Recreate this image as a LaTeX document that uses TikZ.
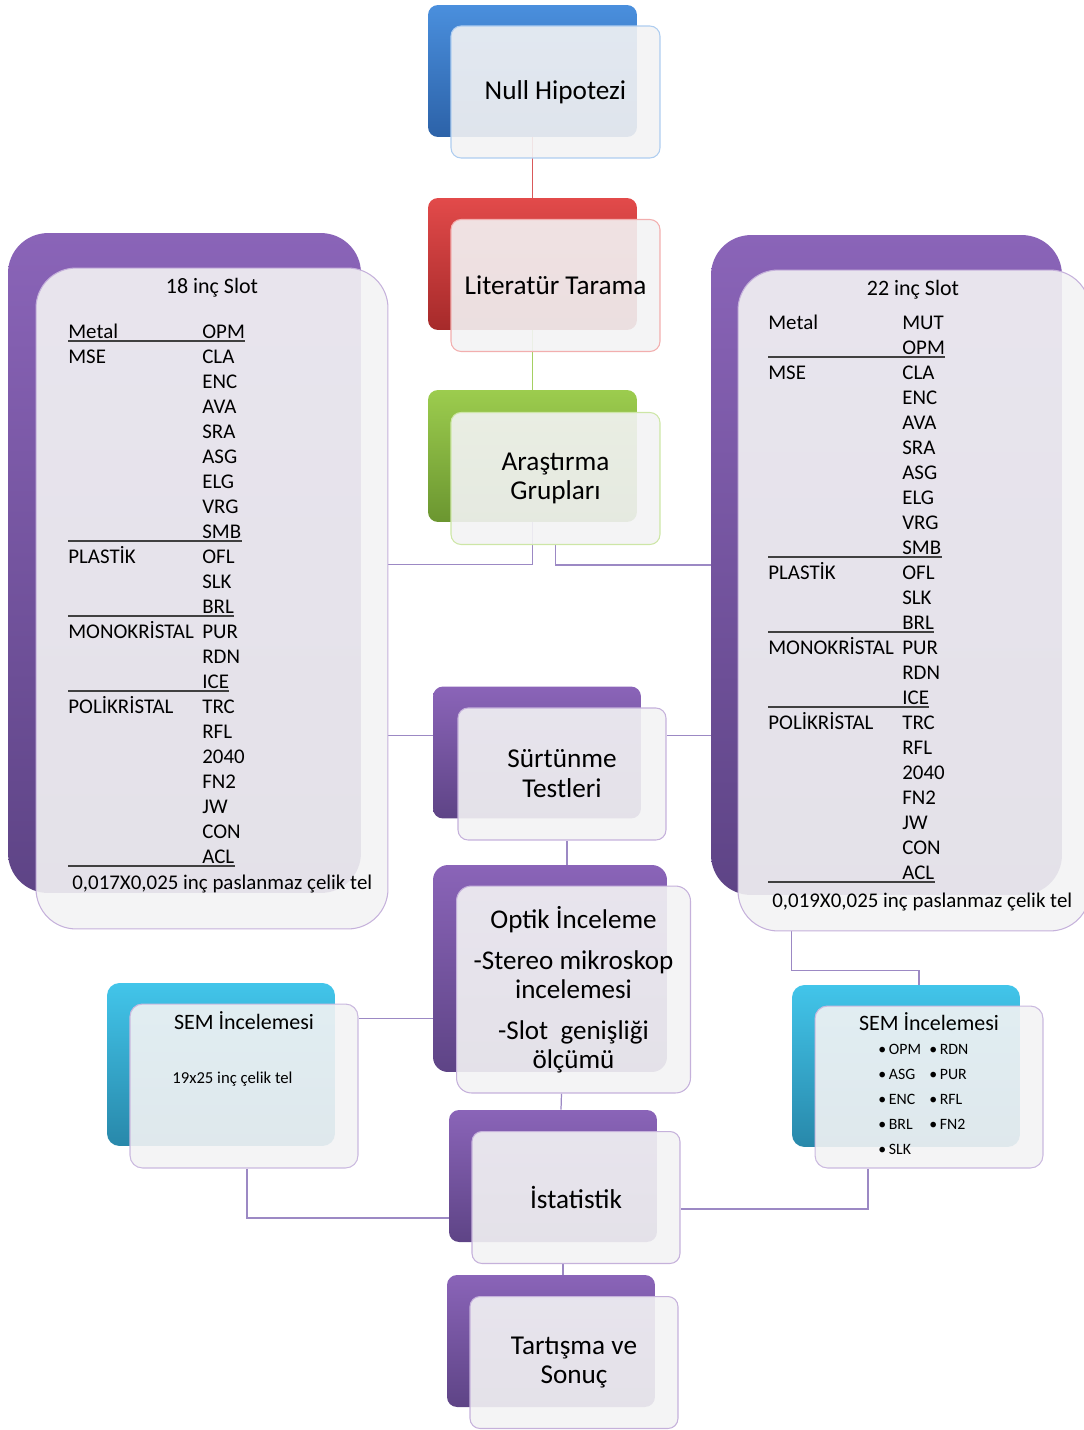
\documentclass[tikz,border=0pt]{standalone}
\usepackage{fontspec}
\setmainfont{Carlito}
\usetikzlibrary{calc,backgrounds}

\definecolor{bluetop}{HTML}{4A8FDD}
\definecolor{bluebot}{HTML}{2C62A8}
\definecolor{redtop}{HTML}{E24A4A}
\definecolor{redbot}{HTML}{A62A2A}
\definecolor{greentop}{HTML}{9CCC4E}
\definecolor{greenbot}{HTML}{6B9630}
\definecolor{purpletop}{HTML}{8A64B8}
\definecolor{purplebot}{HTML}{5E4486}
\definecolor{cyantop}{HTML}{42C5EA}
\definecolor{cyanbot}{HTML}{2888AA}
\definecolor{cardfill}{HTML}{F3F3F4}
\definecolor{linkpurple}{HTML}{9C89C4}
\definecolor{linkred}{HTML}{D9595A}
\definecolor{linkgreen}{HTML}{A5CF62}

\tikzset{
  cardback/.style={rounded corners=0.2cm, minimum width=4.18cm, minimum height=2.64cm, inner sep=0pt},
  cardfront/.style={cardback, draw=#1, line width=0.6pt, fill=cardfill, fill opacity=0.9, text opacity=1,
    align=center, font=\fontsize{15.5}{17}\selectfont},
  link/.style={draw=linkpurple, line width=0.7pt},
  item/.style={anchor=base west, inner sep=0pt, font=\fontsize{11.9}{14}\selectfont},
  title/.style={anchor=base, inner sep=0pt, font=\fontsize{12.5}{14}\selectfont},
  small/.style={anchor=base west, inner sep=0pt, font=\fontsize{9}{11}\selectfont},
  tabline/.style={draw=black!75, line width=0.8pt}
}

\begin{document}
\begin{tikzpicture}[x=0.02cm, y=-0.02cm]
\useasboundingbox (0,0) rectangle (1083,1430);

% middle column
\node[cardback, top color=bluetop, bottom color=bluebot] (nullB) at (532.5,71) {};
\node[cardfront=bluetop!45] (null) at ($(nullB)+(23,21)$) {Null Hipotezi};

\node[cardback, top color=redtop, bottom color=redbot] (litB) at (532.5,264) {};
\node[cardfront=redtop!45] (lit) at ($(litB)+(23,21.5)$) {Literatür Tarama};

\node[cardback, top color=greentop, bottom color=greenbot] (araB) at (532.5,456) {};
\node[cardfront=greentop!50] (ara) at ($(araB)+(23,22.5)$) {Araştırma\\Grupları};

\node[cardback, minimum width=4.16cm, top color=purpletop, bottom color=purplebot] (surtB) at (537,752.5) {};
\node[cardfront=purpletop!50, minimum width=4.16cm] (surt) at ($(surtB)+(25,21.5)$) {Sürtünme\\Testleri};

\node[cardback, rounded corners=0.3cm, minimum width=4.68cm, minimum height=4.14cm,
  top color=purpletop, bottom color=purplebot] (optikB) at (550,968.5) {};
\node[cardfront=purpletop!50, rounded corners=0.3cm, minimum width=4.68cm, minimum height=4.14cm,
  font=\fontsize{15.4}{16.4}\selectfont] (optik) at ($(optikB)+(23.5,21)$)
  {Optik İnceleme\\[7pt]-Stereo mikroskop\\incelemesi\\[7pt]-Slot\ \ genişliği\\ölçümü};

\node[cardback, minimum width=4.16cm, top color=purpletop, bottom color=purplebot] (istB) at (553,1176) {};
\node[cardfront=purpletop!50, minimum width=4.16cm] (ist) at ($(istB)+(23,21.5)$) {İstatistik};

\node[cardback, minimum width=4.16cm, top color=purpletop, bottom color=purplebot] (tartB) at (551,1341) {};
\node[cardfront=purpletop!50, minimum width=4.16cm] (tart) at ($(tartB)+(23,21.5)$) {Tartışma ve\\Sonuç};

% slot cards
\node[cardback, rounded corners=0.8cm, minimum width=7.06cm, minimum height=13.2cm,
  top color=purpletop, bottom color=purplebot] (leftB) at (184.5,563) {};
\node[cardfront=purpletop!50, rounded corners=0.8cm, minimum width=7.04cm, minimum height=13.22cm] (left)
  at ($(leftB)+(27.5,35.5)$) {};
\node[cardback, rounded corners=0.8cm, minimum width=7.02cm, minimum height=13.2cm,
  top color=purpletop, bottom color=purplebot] (rightB) at (886.5,565) {};
\node[cardfront=purpletop!50, rounded corners=0.8cm, minimum width=7.04cm, minimum height=13.22cm] (right)
  at ($(rightB)+(27.5,35.5)$) {};

\node[title] (lefttitle) at (212,293) {18 inç Slot};
\foreach \kind/\code/\under [count=\i] in {Metal/OPM/1, MSE/CLA/0, {}/ENC/0, {}/AVA/0, {}/SRA/0,
    {}/ASG/0, {}/ELG/0, {}/VRG/0, {}/SMB/1, PLASTİK/OFL/0, {}/SLK/0, {}/BRL/1, MONOKRİSTAL/PUR/0,
    {}/RDN/0, {}/ICE/1, POLİKRİSTAL/TRC/0, {}/RFL/0, {}/2040/0, {}/FN2/0, {}/JW/0, {}/CON/0, {}/ACL/1} {
  \node[item] (lk\i) at (68,313+25*\i) {\kind};
  \node[item] (lc\i) at (202,313+25*\i) {\code};
  \ifnum\under=1
    \draw[tabline] ($(lk\i.base west)+(0,3)$) -- ($(lc\i.base east)+(0,3)$);
  \fi
}
\node[item] (leftwire) at (72,889) {0,017X0,025 inç paslanmaz çelik tel};

\node[title] (righttitle) at (913,295) {22 inç Slot};
\foreach \kind/\code/\under [count=\i] in {Metal/MUT/0, {}/OPM/1, MSE/CLA/0, {}/ENC/0, {}/AVA/0, {}/SRA/0,
    {}/ASG/0, {}/ELG/0, {}/VRG/0, {}/SMB/1, PLASTİK/OFL/0, {}/SLK/0, {}/BRL/1, MONOKRİSTAL/PUR/0,
    {}/RDN/0, {}/ICE/1, POLİKRİSTAL/TRC/0, {}/RFL/0, {}/2040/0, {}/FN2/0, {}/JW/0, {}/CON/0, {}/ACL/1} {
  \node[item] (rk\i) at (768,304+25*\i) {\kind};
  \node[item] (rc\i) at (902,304+25*\i) {\code};
  \ifnum\under=1
    \draw[tabline] ($(rk\i.base west)+(0,3)$) -- ($(rc\i.base east)+(0,3)$);
  \fi
}
\node[item] (rightwire) at (772,907) {0,019X0,025 inç paslanmaz çelik tel};

% SEM cards
\node[cardback, rounded corners=0.25cm, minimum width=4.56cm, minimum height=3.26cm,
  top color=cyantop, bottom color=cyanbot] (semLB) at (221,1064.5) {};
\node[cardfront=purpletop!45, rounded corners=0.25cm, minimum width=4.56cm, minimum height=3.28cm] (semL)
  at ($(semLB)+(23,21.5)$) {};
\node[title] (semLtitle) at (244,1029) {SEM İncelemesi};
\node[small, font=\fontsize{9.5}{11}\selectfont] (semLtext) at (172,1083) {19x25 inç çelik tel};

\node[cardback, rounded corners=0.25cm, minimum width=4.56cm, minimum height=3.24cm,
  top color=cyantop, bottom color=cyanbot] (semRB) at (906,1066) {};
\node[cardfront=purpletop!45, rounded corners=0.25cm, minimum width=4.56cm, minimum height=3.24cm] (semR)
  at ($(semRB)+(23,21)$) {};
\node[title] (semRtitle) at (929,1030) {SEM İncelemesi};
\foreach \code [count=\i] in {OPM, ASG, ENC, BRL, SLK}
  \node[small] (sa\i) at (878,1029+25*\i) {\textbullet\,\code};
\foreach \code [count=\i] in {RDN, PUR, RFL, FN2}
  \node[small] (sb\i) at (929,1029+25*\i) {\textbullet\,\code};

% connectors
\begin{pgfonlayer}{background}
\draw[draw=linkred, line width=0.7pt] (nullB.south) -- (litB.north);
\draw[draw=linkgreen, line width=0.7pt] (litB.south) -- (araB.north);
\draw[link] (araB.south) |- ($(left.east)+(0,-34)$);
\draw[link] (ara.south) |- (rightB.west);
\coordinate (m1) at ($(surtB.west)+(0,-17)$);
\draw[link] (left.east |- m1) -- (m1);
\draw[link] (surt.east |- m1) -- (rightB.west |- m1);
\draw[link] ($(surt.south)+(5,0)$) -- ($(optikB.north)+(17,0)$);
\coordinate (m2) at ($(optikB.west)+(0,50)$);
\draw[link] (semL.east |- m2) -- (m2);
\draw[link] ($(right.south west)+(54,0)$) -- ++(0,39) -| ($(semRB.north)+(13,0)$);
\draw[link] ($(optik.south)+(-12,0)$) -- ($(istB.north)+(8,0)$);
\draw[link] ($(semL.south)+(3,0)$) |- ($(istB.west)+(0,42)$);
\draw[link] ($(semR.south)+(-61,0)$) |- ($(ist.east)+(0,11.5)$);
\draw[link] ($(ist.south)+(-13,0)$) -- ($(tartB.north)+(12,0)$);
\end{pgfonlayer}
\end{tikzpicture}
\end{document}
